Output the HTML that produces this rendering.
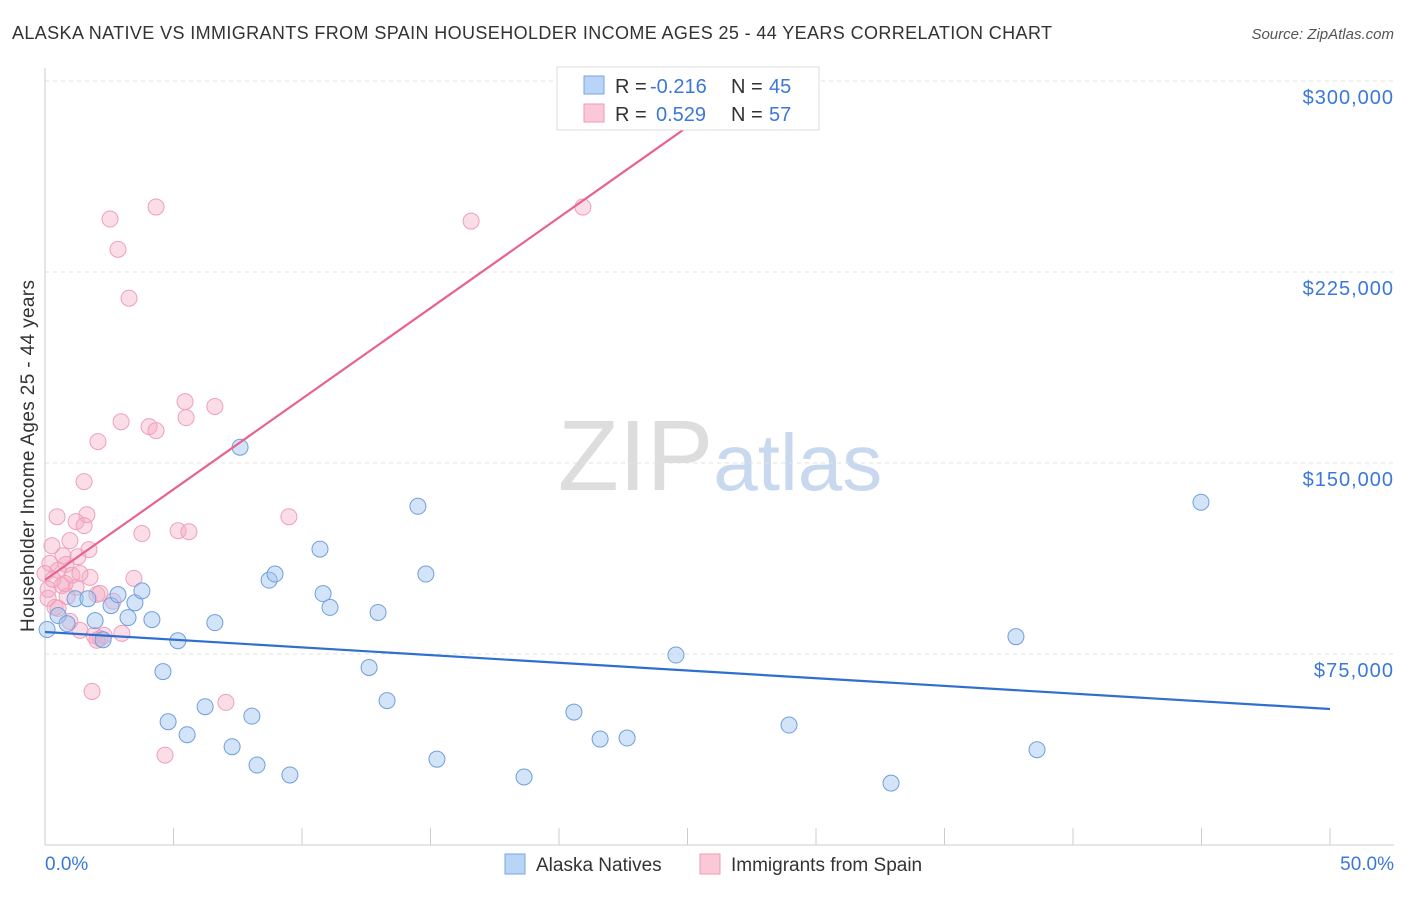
<!DOCTYPE html>
<html><head><meta charset="utf-8"><style>
body{margin:0;background:#fff;font-family:"Liberation Sans",sans-serif}
svg text{font-family:"Liberation Sans",sans-serif}
</style></head><body>
<svg id="chart" width="1406" height="892" viewBox="0 0 1406 892">
<text x="12" y="39" font-size="18" fill="#333" textLength="1040" lengthAdjust="spacing">ALASKA NATIVE VS IMMIGRANTS FROM SPAIN HOUSEHOLDER INCOME AGES 25 - 44 YEARS CORRELATION CHART</text>
<text x="1394" y="39" font-size="15" fill="#555" text-anchor="end" font-style="italic">Source: ZipAtlas.com</text>
<text x="720" y="490" font-size="100" fill="#ddd" text-anchor="middle" font-family="Liberation Serif">ZIP<tspan fill="#c8d8ee" font-family="Liberation Sans" font-size="80">atlas</tspan></text>
<g id="grid"></g><g id="axes"></g>
<text transform="translate(34,456) rotate(-90)" font-size="19" fill="#333" text-anchor="middle" textLength="352" lengthAdjust="spacing">Householder Income Ages 25 - 44 years</text>
<g id="marks"></g>
<g>
<rect x="557" y="67" width="262" height="63" fill="#fff" stroke="#ddd"/>
<rect x="584" y="76" width="20" height="18" fill="#b8d4f6" stroke="#7aa6e0"/>
<rect x="584" y="104" width="20" height="18" fill="#fbc8d8" stroke="#ef9ab6"/>
<text x="615" y="93" font-size="20" fill="#333">R =</text>
<text x="650" y="93" font-size="20" fill="#3b78d8">-0.216</text>
<text x="731" y="93" font-size="20" fill="#333">N =</text>
<text x="769" y="93" font-size="20" fill="#3b78d8">45</text>
<text x="615" y="121" font-size="20" fill="#333">R =</text>
<text x="656" y="121" font-size="20" fill="#3b78d8">0.529</text>
<text x="731" y="121" font-size="20" fill="#333">N =</text>
<text x="769" y="121" font-size="20" fill="#3b78d8">57</text>
</g>
<g>
<rect x="505" y="854" width="20" height="20" fill="#b8d4f6" stroke="#7aa6e0"/>
<text x="536" y="871" font-size="19" fill="#333">Alaska Natives</text>
<rect x="700" y="854" width="20" height="20" fill="#fbc8d8" stroke="#ef9ab6"/>
<text x="731" y="871" font-size="19" fill="#333">Immigrants from Spain</text>
</g>
</svg>
<script>
const yTicks=[75000,150000,225000,300000];
const yTickLabels=["$75,000","$150,000","$225,000","$300,000"];
const blueX=[0.08,0.51,0.86,1.17,1.67,1.95,2.26,2.57,2.84,3.23,3.5,3.77,4.16,4.59,4.79,5.17,5.53,6.23,6.61,7.28,7.59,8.05,8.25,8.72,8.95,9.53,10.7,10.82,11.09,12.61,12.96,13.31,14.51,14.82,15.25,18.64,20.58,21.6,22.65,24.55,28.95,32.92,37.78,38.6,44.98];
const blueY=[84600,90100,86900,96700,96700,88100,80600,94000,98300,89300,95100,99800,88500,68100,48400,80200,43300,54300,87300,38600,156200,50600,31400,104000,106400,27500,116200,98700,93300,69700,91300,56700,133000,106400,33700,26700,52200,41600,42000,74600,47100,24300,81800,37400,134600];
const pinkX=[2.53,4.32,2.84,3.27,16.58,20.93,5.45,6.61,5.49,2.96,4.05,4.32,2.06,1.52,0.47,1.63,1.21,1.52,9.49,5.18,5.6,3.77,0.97,1.71,0.27,0.7,1.28,0.19,0.82,0.51,1.05,1.75,3.46,0.66,1.21,0.12,2.02,0.86,2.65,0.39,0.97,1.36,2.99,1.91,2.14,2.02,2.3,1.83,7.04,4.67,0.12,0.51,0.78,0,1.36,0.31,2.14];
const pinkY=[245800,250500,233900,214700,245000,250500,174100,172200,167800,166200,164300,162700,158400,142700,128900,129700,127000,125400,128900,123400,123000,122300,119500,116000,117500,113600,113200,110600,110200,107900,105900,105100,104700,101900,101200,100400,98400,97600,95700,93300,87800,84300,83100,82300,81100,80400,82300,60300,56000,35300,96900,92900,102700,106600,106600,104300,98800];
const blueTrend=[[0,83639],[50,53403]];
const pinkTrend=[[0,104058],[25.1,282723]];
const X=v=>45+v/50*1285, Y=v=>845-v/75000*191;
const NS="http://www.w3.org/2000/svg";
function mk(t,a,p){const e=document.createElementNS(NS,t);for(const k in a)e.setAttribute(k,a[k]);p.appendChild(e);return e;}
const grid=document.getElementById('grid'),axes=document.getElementById('axes'),marks=document.getElementById('marks');
yTicks.forEach((t,i)=>{
 const l=mk('line',{x1:45,x2:1394,y1:Y(t),y2:Y(t),stroke:'#e2e2e2','stroke-dasharray':'4,4'},grid);
 
 
 const tx=mk('text',{x:1393,y:Y(t)+23,'font-size':20,fill:'#3b78d8','text-anchor':'end',textLength:(yTickLabels[i].length*11.3),lengthAdjust:'spacing'},axes);
 tx.textContent=yTickLabels[i];
 
 
});
const ax=mk('line',{x1:45,x2:1394,y1:845,y2:845,stroke:'#ccc'},axes);


const ay=mk('line',{x1:45,x2:45,y1:68,y2:845,stroke:'#ccc'},axes);


for(let i=1;i<=10;i++){const tk=mk('line',{x1:X(i*5),x2:X(i*5),y1:828,y2:845,stroke:'#ccc'},axes);
 
 }
[["0.0%",45,'start'],["50.0%",1394,'end']].forEach(d=>{const t=mk('text',{x:d[1],y:870,'font-size':19,fill:'#3b78d8','text-anchor':d[2]},axes);t.textContent=d[0];
 
 });
pinkX.forEach((x,i)=>{const c=mk('circle',{cx:X(x),cy:Y(pinkY[i]),r:8,fill:'rgba(246,170,196,0.4)',stroke:'#eea0bb','stroke-width':1},marks);
 
 });
blueX.forEach((x,i)=>{const c=mk('circle',{cx:X(x),cy:Y(blueY[i]),r:8,fill:'rgba(160,196,240,0.45)',stroke:'#6f9fdc','stroke-width':1},marks);
 
 });
const bl=mk('line',{x1:X(blueTrend[0][0]),y1:Y(blueTrend[0][1]),x2:X(blueTrend[1][0]),y2:Y(blueTrend[1][1]),stroke:'#2f6fd0','stroke-width':2.2},marks);


const pl=mk('line',{x1:X(pinkTrend[0][0]),y1:Y(pinkTrend[0][1]),x2:X(pinkTrend[1][0]),y2:Y(pinkTrend[1][1]),stroke:'#e8628f','stroke-width':2.2},marks);


</script>
</body></html>
